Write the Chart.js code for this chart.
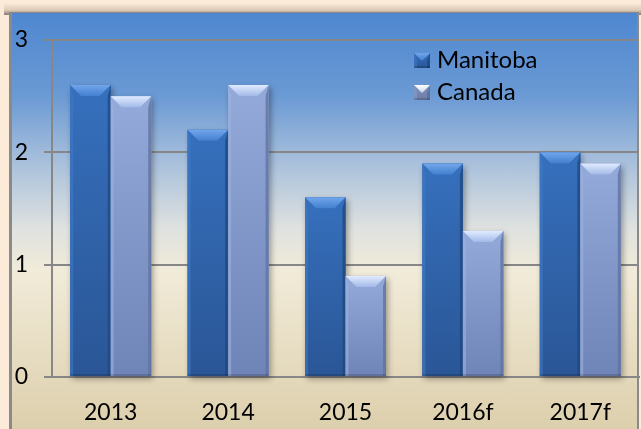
<!DOCTYPE html>
<html>
<head>
<meta charset="utf-8">
<script src="https://cdn.jsdelivr.net/npm/chart.js@4.4.1/dist/chart.umd.min.js"></script>
<style>
  html, body { margin:0; padding:0; width:641px; height:429px; overflow:hidden; background:#fcebd9; }
  #shadow { position:absolute; left:4px; top:3px; width:640px; height:12px;
    background:linear-gradient(to bottom, rgba(252,235,217,0) 0%, rgba(200,180,160,0.6) 60%, rgba(120,110,100,0.9) 100%); }
  #panel { position:absolute; left:9px; top:12px; width:630px; height:417px;
    border-left:3px solid #8a8a8a; border-top:1px solid #8a8a8a; border-right:2px solid #8a8a8a; box-sizing:border-box;
    background:linear-gradient(to bottom, #4e87d0 0%, #6b9ad4 20%, #a9c0dc 36%, #dfe2df 52%, #f1ebd9 62%, #e8dec4 80%, #dccfac 100%); }
  #c { position:absolute; left:0; top:0; }
</style>
</head>
<body>
<div id="shadow"></div>
<div id="panel"></div>
<canvas id="c" width="641" height="429"></canvas>
<script>
const categories = ['2013', '2014', '2015', '2016f', '2017f'];
const manitoba = [2.6, 2.2, 1.6, 1.9, 2.0];
const canada = [2.5, 2.6, 0.9, 1.3, 1.9];
const seriesNames = ['Manitoba', 'Canada'];
const yTicks = [0, 1, 2, 3];

const PAL = [
  { body: ['#3670bd', '#2a5696'], top: ['#72a6ec', '#4280cf'], left: '#4079c6', right: '#21487f', flat: '#3166b0' },
  { body: ['#93aada', '#6f84b7'], top: ['#e0ebff', '#a3bae8'], left: '#9db3e0', right: '#61739f', flat: '#8aa0d0' }
];
const LEG2 = { body: ['#7f92bd', '#6c7ea8'], top: ['#ffffff', '#c9d6ee'], left: '#8a9cc4', right: '#5d6e96' };
const FONT = 'Lato, "Open Sans", sans-serif';

function drawBevel(ctx, L, R, T, B, p) {
  const w = R - L;
  const b = Math.min(11, (B - T) / 2, w / 2);
  let g = ctx.createLinearGradient(0, T, 0, B);
  g.addColorStop(0, p.body[0]); g.addColorStop(1, p.body[1]);
  ctx.fillStyle = g; ctx.fillRect(L, T, w, B - T);
  ctx.fillStyle = p.left;
  ctx.globalAlpha = 0.6;
  ctx.beginPath(); ctx.moveTo(L, T); ctx.lineTo(L + 3, T + b); ctx.lineTo(L + 3, B); ctx.lineTo(L, B); ctx.closePath(); ctx.fill();
  ctx.fillStyle = p.right;
  ctx.globalAlpha = 0.8;
  ctx.beginPath(); ctx.moveTo(R, T); ctx.lineTo(R - 3, T + b); ctx.lineTo(R - 3, B); ctx.lineTo(R, B); ctx.closePath(); ctx.fill();
  ctx.globalAlpha = 1;
  g = ctx.createLinearGradient(0, T, 0, T + b);
  g.addColorStop(0, p.top[0]); g.addColorStop(1, p.top[1]);
  ctx.fillStyle = g;
  ctx.beginPath(); ctx.moveTo(L, T); ctx.lineTo(R, T); ctx.lineTo(R - b, T + b); ctx.lineTo(L + b, T + b); ctx.closePath(); ctx.fill();
  ctx.fillStyle = 'rgba(0,0,0,0.15)';
  ctx.fillRect(L, B - 2, w, 2);
}

const bevelPlugin = {
  id: 'bevel',
  beforeDatasetsDraw(chart) {
    const ctx = chart.ctx;
    ctx.save();
    ctx.shadowColor = 'rgba(0,0,0,0.35)';
    ctx.shadowBlur = 6;
    ctx.shadowOffsetX = 2;
    ctx.shadowOffsetY = 3;
  },
  afterDatasetsDraw(chart) {
    const ctx = chart.ctx;
    ctx.restore();
    chart.data.datasets.forEach((ds, di) => {
      const meta = chart.getDatasetMeta(di);
      meta.data.forEach(bar => {
        const { x, y, base, width } = bar.getProps(['x', 'y', 'base', 'width'], true);
        ctx.save();
        drawBevel(ctx, x - width / 2, x + width / 2, y, base, PAL[di]);
        ctx.restore();
      });
    });
  },
  afterDraw(chart) {
    const ctx = chart.ctx;
    chart.data.datasets.forEach((ds, di) => {
      const mx = 414, my = 53 + di * 32, s = 15;
      ctx.save();
      drawBevel(ctx, mx, mx + s + 1, my, my + s, di === 0 ? PAL[0] : LEG2);
      ctx.restore();
      ctx.save();
      ctx.font = '24px ' + FONT;
      ctx.textBaseline = 'alphabetic';
      ctx.textAlign = 'left';
      ctx.fillStyle = '#000';
      ctx.fillText(ds.label, 437, my + 15);
      ctx.restore();
    });
  }
};

new Chart(document.getElementById('c'), {
  type: 'bar',
  data: {
    labels: categories,
    datasets: [
      { label: seriesNames[0], data: manitoba, backgroundColor: PAL[0].flat },
      { label: seriesNames[1], data: canada, backgroundColor: PAL[1].flat }
    ]
  },
  plugins: [bevelPlugin],
  options: {
    responsive: false,
    animation: false,
    devicePixelRatio: 1,
    clip: false,
    layout: { padding: { top: 40, right: 2, left: 0, bottom: 0 } },
    datasets: { bar: { categoryPercentage: 0.69, barPercentage: 1.0 } },
    plugins: { legend: { display: false }, tooltip: { enabled: false } },
    scales: {
      x: {
        afterFit: s => { s.height = 52; },
        grid: { display: false },
        border: { display: true, color: '#878787', width: 2 },
        ticks: { color: '#000', font: { family: FONT, size: 23 }, padding: 14, maxRotation: 0 }
      },
      y: {
        min: 0, max: 3,
        afterFit: s => { s.width = 52; },
        afterBuildTicks: s => { s.ticks = yTicks.map(v => ({ value: v })); },
        grid: { color: '#878787', lineWidth: 2, tickLength: 8, drawTicks: true },
        border: { display: true, color: '#878787', width: 2 },
        ticks: { color: '#000', font: { family: FONT, size: 23 }, padding: 16 }
      }
    }
  }
});
</script>
</body>
</html>
